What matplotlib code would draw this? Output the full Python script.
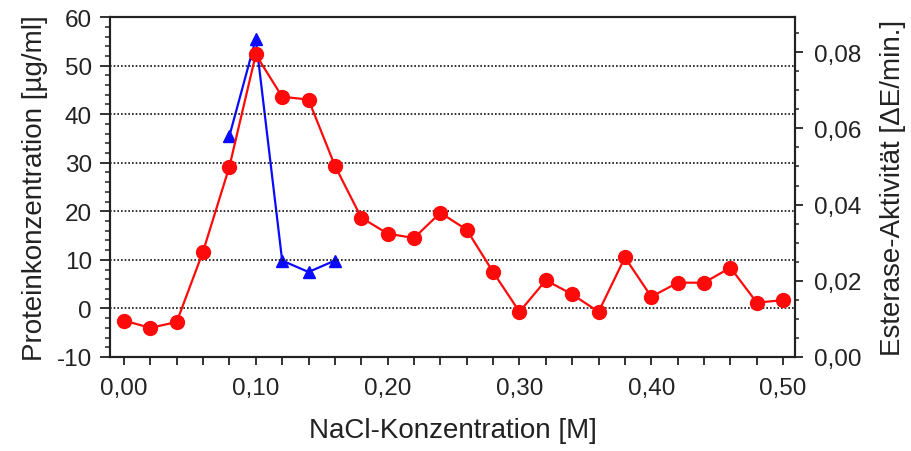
import numpy as np
import matplotlib
matplotlib.use('Agg')
import matplotlib.pyplot as plt
from matplotlib.ticker import MultipleLocator, FuncFormatter

plt.rcParams['font.family'] = ['Liberation Sans', 'DejaVu Sans']
plt.rcParams['axes.unicode_minus'] = False

# NaCl gradient fractions
nacl = [0.00, 0.02, 0.04, 0.06, 0.08, 0.10, 0.12, 0.14, 0.16, 0.18, 0.20, 0.22, 0.24,
        0.26, 0.28, 0.30, 0.32, 0.34, 0.36, 0.38, 0.40, 0.42, 0.44, 0.46, 0.48, 0.50]
protein = [-2.5, -4.0, -2.8, 11.7, 29.2, 52.3, 43.6, 43.0, 29.4, 18.7, 15.4, 14.5, 19.7,
           16.2, 7.5, -0.7, 5.8, 2.9, -0.7, 10.5, 2.4, 5.3, 5.3, 8.4, 1.2, 1.7]

# esterase activity only measured around the peak
nacl_est = [0.08, 0.10, 0.12, 0.14, 0.16]
esterase = [0.058, 0.0835, 0.0253, 0.0223, 0.0253]

fig = plt.figure(figsize=(9.11, 4.52), dpi=100)
ax = fig.add_axes([0.1207, 0.208, 0.752, 0.752])
ax2 = ax.twinx()

ax2.plot(nacl_est, esterase, color='#0a0aff', lw=1.6, marker='^', ms=9, zorder=2)
ax.plot(nacl, protein, color='#ff0a0a', lw=1.6, marker='o', ms=10, zorder=3)
ax.set_zorder(ax2.get_zorder() + 1)
ax.patch.set_visible(False)

ax.set_xlim(-0.0106, 0.509)
ax.set_ylim(-10, 60)
ax2.set_ylim(0, 0.0892)

ax.xaxis.set_major_locator(MultipleLocator(0.1))
ax.xaxis.set_minor_locator(MultipleLocator(0.02))
ax.yaxis.set_major_locator(MultipleLocator(10))
ax.yaxis.set_minor_locator(MultipleLocator(2))
ax2.yaxis.set_major_locator(MultipleLocator(0.02))
ax2.yaxis.set_minor_locator(MultipleLocator(0.005))

comma = lambda v, p: f'{v:.2f}'.replace('.', ',')
ax.xaxis.set_major_formatter(FuncFormatter(comma))
ax2.yaxis.set_major_formatter(FuncFormatter(comma))
ax.yaxis.set_major_formatter(FuncFormatter(lambda v, p: f'{v:.0f}'))

ax.yaxis.grid(True, linestyle=(0, (1, 1.2)), color='#111111', lw=1.2)

for a in (ax, ax2):
    for s in a.spines.values():
        s.set_linewidth(1.5)
        s.set_color('#222222')
ax.tick_params(axis='y', which='major', length=7, width=1.3, pad=6, labelsize=17.5, colors='#222222')
ax.tick_params(axis='y', which='minor', length=3.5, width=1.1, colors='#222222')
ax.tick_params(axis='x', which='both', length=5.5, width=1.3, pad=9, labelsize=17.5, colors='#222222')
ax2.tick_params(axis='y', which='major', length=6, width=1.3, pad=8, labelsize=17.5, colors='#222222')
ax2.tick_params(axis='y', which='minor', length=3, width=1.1, colors='#222222')

ax.set_xlabel('NaCl-Konzentration [M]', fontsize=20, color='#222222', labelpad=13)
ax.set_ylabel('Proteinkonzentration [µg/ml]', fontsize=20, color='#222222', labelpad=6)
ax2.set_ylabel('Esterase-Aktivität [ΔE/min.]', fontsize=20, color='#222222', labelpad=13)

fig.savefig('out.png', dpi=100)
